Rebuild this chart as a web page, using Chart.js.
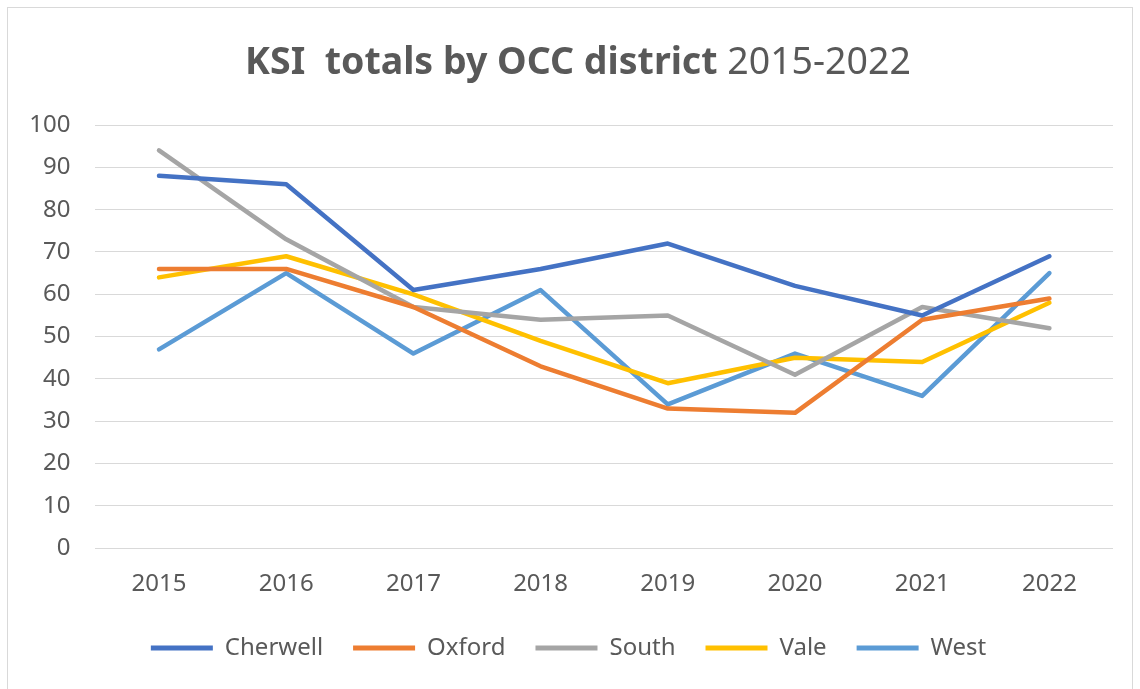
<!DOCTYPE html>
<html>
<head>
<meta charset="utf-8">
<script src="https://cdn.jsdelivr.net/npm/chart.js@4/dist/chart.umd.min.js"></script>
<style>
  html, body { margin: 0; padding: 0; background: #fff; }
  #wrap { width: 1140px; height: 689px; }
</style>
</head>
<body>
<div id="wrap"><canvas id="ksi"></canvas></div>
<script>
const years = ['2015', '2016', '2017', '2018', '2019', '2020', '2021', '2022'];
const cherwell = [88, 86, 61, 66, 72, 62, 55, 69];
const oxford   = [66, 66, 57, 43, 33, 32, 54, 59];
const south    = [94, 73, 57, 54, 55, 41, 57, 52];
const vale     = [64, 69, 60, 49, 39, 45, 44, 58];
const west     = [47, 65, 46, 61, 34, 46, 36, 65];
const titleBold = 'KSI  totals by OCC district ';
const titleRest = '2015-2022';

const textGrey = '#595959';
const font = 'Noto Sans';

function line(label, data, color) {
  return {
    label: label,
    data: data,
    borderColor: color,
    backgroundColor: color,
    borderWidth: 4.5,
    pointRadius: 0,
    pointHoverRadius: 0,
    tension: 0,
    borderJoinStyle: 'round',
    borderCapStyle: 'round'
  };
}

// frame + two-weight title like the Excel original
const decor = {
  id: 'decor',
  beforeDraw(chart) {
    const ctx = chart.ctx;
    ctx.save();
    ctx.strokeStyle = '#d9d9d9';
    ctx.lineWidth = 1;
    ctx.strokeRect(7.5, 7.5, chart.width - 15, chart.height - 3);
    ctx.restore();
  },
  afterDraw(chart) {
    const ctx = chart.ctx;
    ctx.save();
    ctx.fillStyle = textGrey;
    ctx.textBaseline = 'alphabetic';
    ctx.textAlign = 'left';
    ctx.font = 'bold 37.5px "' + font + '"';
    const w1 = ctx.measureText(titleBold).width;
    ctx.font = '37.5px "' + font + '"';
    const w2 = ctx.measureText(titleRest).width;
    let x = chart.width / 2 + 8 - (w1 + w2) / 2;
    ctx.font = 'bold 37.5px "' + font + '"';
    ctx.fillText(titleBold, x, 74);
    ctx.font = '37.5px "' + font + '"';
    ctx.fillText(titleRest, x + w1, 74);
    ctx.restore();
  }
};

new Chart(document.getElementById('ksi'), {
  type: 'line',
  data: {
    labels: years,
    datasets: [
      line('Cherwell', cherwell, '#4472C4'),
      line('Oxford', oxford, '#ED7D31'),
      line('South', south, '#A5A5A5'),
      line('Vale', vale, '#FFC000'),
      line('West', west, '#5B9BD5')
    ]
  },
  options: {
    responsive: true,
    maintainAspectRatio: false,
    animation: false,
    layout: { padding: { left: 24, right: 27, top: 125, bottom: 19 } },
    plugins: {
      title: { display: false },
      tooltip: { enabled: false },
      legend: {
        position: 'bottom',
        labels: {
          color: textGrey,
          font: { family: font, size: 24 },
          boxWidth: 62,
          boxHeight: 5,
          padding: 30,
          generateLabels(chart) {
            return chart.data.datasets.map((ds, i) => ({
              text: ds.label,
              fillStyle: ds.borderColor,
              strokeStyle: ds.borderColor,
              lineWidth: 0,
              fontColor: textGrey,
              datasetIndex: i
            }));
          }
        }
      }
    },
    scales: {
      x: {
        offset: true,
        grid: { display: false },
        border: { display: false },
        ticks: { color: textGrey, font: { family: font, size: 24 }, padding: 13, maxRotation: 0 },
        afterFit(scale) { scale.height = 57.7; }
      },
      y: {
        min: 0,
        max: 100,
        grid: { color: '#d9d9d9', lineWidth: 1, drawTicks: false },
        border: { display: false },
        ticks: { stepSize: 10, color: textGrey, font: { family: font, size: 24 }, padding: 25 },
        afterFit(scale) { scale.width = 71.4; }
      }
    }
  },
  plugins: [decor]
});
</script>
</body>
</html>
